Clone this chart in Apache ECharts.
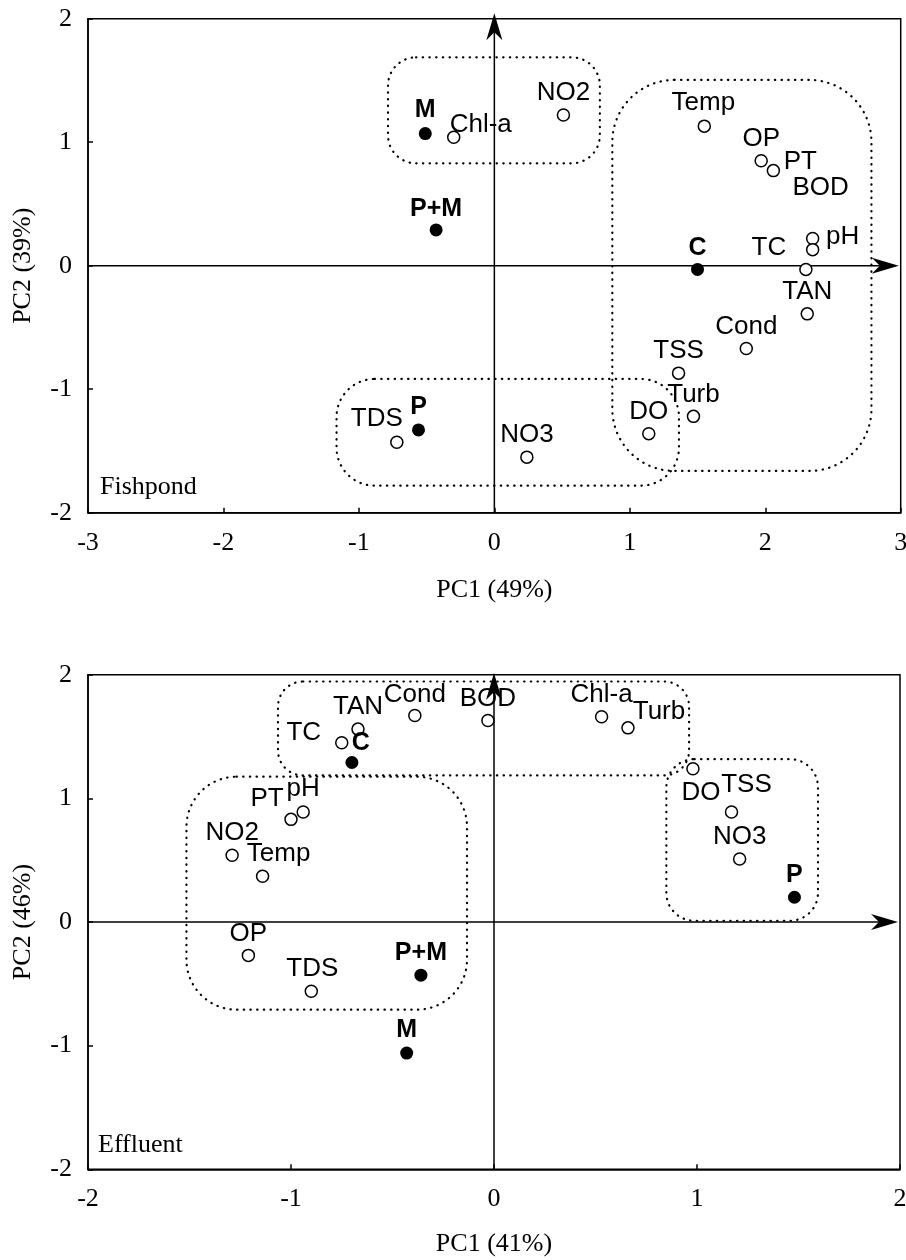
<!DOCTYPE html>
<html><head><meta charset="utf-8">
<script src="https://cdn.jsdelivr.net/npm/echarts@6/dist/echarts.min.js"></script>
<style>html,body{margin:0;padding:0;background:#fff}#c{width:906px;height:1260px}</style>
</head><body><div id="c"></div>
<script>
// ---------- Fishpond (top) ----------
const fishVarNames = ['Temp','OP','PT','pH','BOD','TC','TAN','Cond','TSS','Turb','DO','NO3','TDS','NO2','Chl-a'];
const fishVarPC1   = [1.55, 1.97, 2.06, 2.35, 2.35, 2.30, 2.31, 1.86, 1.36, 1.47, 1.14, 0.24, -0.72, 0.51, -0.30];
const fishVarPC2   = [1.13, 0.85, 0.77, 0.22, 0.13, -0.03, -0.39, -0.67, -0.87, -1.22, -1.36, -1.55, -1.43, 1.22, 1.04];
const fishTrtNames = ['C','P','M','P+M'];
const fishTrtPC1   = [1.50, -0.56, -0.51, -0.43];
const fishTrtPC2   = [-0.03, -1.33, 1.07, 0.29];
const fishXTicks   = [-3, -2, -1, 0, 1, 2, 3];
const fishYTicks   = [-2, -1, 0, 1, 2];
// dotted groups: [PC1 min, PC1 max, PC2 min, PC2 max]
const fishGroups   = [[-0.785, 0.779, 0.829, 1.687], [0.871, 2.784, -1.662, 1.504], [-1.165, 1.363, -1.781, -0.917]];

// ---------- Effluent (bottom) ----------
const effVarNames = ['TC','TAN','Cond','BOD','Chl-a','Turb','PT','pH','NO2','Temp','OP','TDS','DO','TSS','NO3'];
const effVarPC1   = [-0.75, -0.67, -0.39, -0.03, 0.53, 0.66, -1.00, -0.94, -1.29, -1.14, -1.21, -0.90, 0.98, 1.17, 1.21];
const effVarPC2   = [1.45, 1.56, 1.67, 1.63, 1.66, 1.57, 0.83, 0.89, 0.54, 0.37, -0.27, -0.56, 1.24, 0.89, 0.51];
const effTrtNames = ['C','P','M','P+M'];
const effTrtPC1   = [-0.70, 1.48, -0.43, -0.36];
const effTrtPC2   = [1.29, 0.20, -1.06, -0.43];
const effXTicks   = [-2, -1, 0, 1, 2];
const effYTicks   = [-2, -1, 0, 1, 2];
const effGroups   = [[-1.064, 0.961, 1.185, 1.945], [-1.515, -0.133, -0.709, 1.175], [0.849, 1.596, 0.01, 1.317]];

// ---------- label placement (pixel nudges, style only) ----------
const fishNudge = {Temp:[-1,-23], OP:[0,-22], PT:[27,-9], pH:[30,-2], BOD:[8,-62], TC:[-37,-22], TDS:[-20,-23], 'Chl-a':[27,-12],
                   C:[0,-21], 'P+M':[0,-21], P:[0,-23], M:[0,-23]};
const effNudge  = {TC:[-38,-10], Cond:[0,-21], Turb:[31,-16], PT:[-24,-21], pH:[0,-23], Temp:[16,-22], TDS:[1,-22], DO:[8,24], TSS:[15,-27],
                   C:[9,-19], M:[0,-23]};
const fishRadii = [28, 62, 38];
const effRadii  = [25, 50, 28];

const SANS = 'Liberation Sans, Arial, Helvetica, sans-serif';
const SERIF = 'Liberation Serif, Times New Roman, serif';

function axisBase(gridIndex, ticks, name, nameGap, isY) {
  return {
    type: 'value', gridIndex, min: ticks[0], max: ticks[ticks.length - 1], interval: 1,
    name, nameLocation: 'middle', nameGap, nameRotate: isY ? 90 : 0,
    nameTextStyle: {fontFamily: SERIF, fontSize: 26, color: '#000'},
    axisLine: {show: true, onZero: false, lineStyle: {color: '#000', width: 1.5}},
    axisTick: {show: true, inside: true, length: 5, lineStyle: {color: '#000', width: 1.5}},
    axisLabel: {show: true, margin: isY ? 16 : 17, fontFamily: SERIF, fontSize: 26, color: '#000', hideOverlap: false},
    splitLine: {show: false}
  };
}

function boxRenderer(radii) {
  return function (params, api) {
    const a = api.coord([api.value(0), api.value(3)]);
    const b = api.coord([api.value(1), api.value(2)]);
    return {
      type: 'rect',
      shape: {x: a[0], y: a[1], width: b[0] - a[0], height: b[1] - a[1], r: radii[params.dataIndex]},
      style: {fill: 'none', stroke: '#000', lineWidth: 2.2, lineDash: [0.4, 6.3], lineCap: 'round'}
    };
  };
}

function arrowRenderer(params, api) {
  const p1 = api.coord([api.value(0), api.value(1)]);
  const p2 = api.coord([api.value(2), api.value(3)]);
  const ang = Math.atan2(p2[1] - p1[1], p2[0] - p1[0]);
  const L = 27, W = 8, N = 19;
  const c = Math.cos(ang), s = Math.sin(ang);
  const pt = (u, v) => [p2[0] + u * c - v * s, p2[1] + u * s + v * c];
  const m = pt(-N, 0);
  return {type: 'group', children: [
    {type: 'line', shape: {x1: p1[0], y1: p1[1], x2: m[0], y2: m[1]}, style: {stroke: '#000', lineWidth: 1.5}},
    {type: 'polygon', shape: {points: [pt(0, 0), pt(-L, -W), pt(-N, 0), pt(-L, W)]}, style: {fill: '#000'}}
  ]};
}

function pointSeries(idx, names, pc1, pc2, nudge, filled) {
  return {
    type: 'scatter', xAxisIndex: idx, yAxisIndex: idx, z: filled ? 5 : 4,
    symbol: 'circle', symbolSize: filled ? 13 : 12,
    itemStyle: filled ? {color: '#000', borderColor: '#000', borderWidth: 0, opacity: 1}
                      : {color: '#fff', borderColor: '#000', borderWidth: 1.5, opacity: 1},
    label: {show: true, position: 'inside', formatter: '{b}', fontFamily: SANS, fontSize: filled ? 25 : 26,
            fontWeight: filled ? 'bold' : 'normal', color: '#000'},
    emphasis: {disabled: true},
    data: names.map((n, i) => ({name: n, value: [pc1[i], pc2[i]], label: {offset: nudge[n] || [0, -22]}}))
  };
}

const chart = echarts.init(document.getElementById('c'), null, {renderer: 'canvas'});
chart.setOption({
  animation: false,
  backgroundColor: '#fff',
  title: [
    {text: 'Fishpond', left: 100, top: 474, padding: 0, textStyle: {fontFamily: SERIF, fontSize: 26, fontWeight: 'normal', color: '#000'}},
    {text: 'Effluent', left: 98, top: 1132, padding: 0, textStyle: {fontFamily: SERIF, fontSize: 26, fontWeight: 'normal', color: '#000'}}
  ],
  grid: [
    {left: 88, right: 5.3, top: 18.7, height: 494, outerBoundsMode: 'none', containLabel: false,
     show: true, borderColor: '#000', borderWidth: 1.5, backgroundColor: 'transparent'},
    {left: 88, right: 6, top: 674.7, height: 494.6, outerBoundsMode: 'none', containLabel: false,
     show: true, borderColor: '#000', borderWidth: 1.5, backgroundColor: 'transparent'}
  ],
  xAxis: [axisBase(0, fishXTicks, 'PC1 (49%)', 64, false), axisBase(1, effXTicks, 'PC1 (41%)', 62, false)],
  yAxis: [axisBase(0, fishYTicks, 'PC2 (39%)', 52, true), axisBase(1, effYTicks, 'PC2 (46%)', 52, true)],
  series: [
    {type: 'custom', xAxisIndex: 0, yAxisIndex: 0, z: 2, clip: false, renderItem: boxRenderer(fishRadii), encode: {x: [0, 1], y: [2, 3]}, data: fishGroups, silent: true},
    {type: 'custom', xAxisIndex: 0, yAxisIndex: 0, z: 3, clip: false, renderItem: arrowRenderer, encode: {x: [0, 2], y: [1, 3]},
     data: [[0, fishYTicks[0], 0, 2.044], [fishXTicks[0], 0, 2.986, 0]], silent: true},
    pointSeries(0, fishVarNames, fishVarPC1, fishVarPC2, fishNudge, false),
    pointSeries(0, fishTrtNames, fishTrtPC1, fishTrtPC2, fishNudge, true),
    {type: 'custom', xAxisIndex: 1, yAxisIndex: 1, z: 2, clip: false, renderItem: boxRenderer(effRadii), encode: {x: [0, 1], y: [2, 3]}, data: effGroups, silent: true},
    {type: 'custom', xAxisIndex: 1, yAxisIndex: 1, z: 3, clip: false, renderItem: arrowRenderer, encode: {x: [0, 2], y: [1, 3]},
     data: [[0, effYTicks[0], 0, 2.013], [effXTicks[0], 0, 1.99, 0]], silent: true},
    pointSeries(1, effVarNames, effVarPC1, effVarPC2, effNudge, false),
    pointSeries(1, effTrtNames, effTrtPC1, effTrtPC2, effNudge, true)
  ]
});
</script>
</body></html>
